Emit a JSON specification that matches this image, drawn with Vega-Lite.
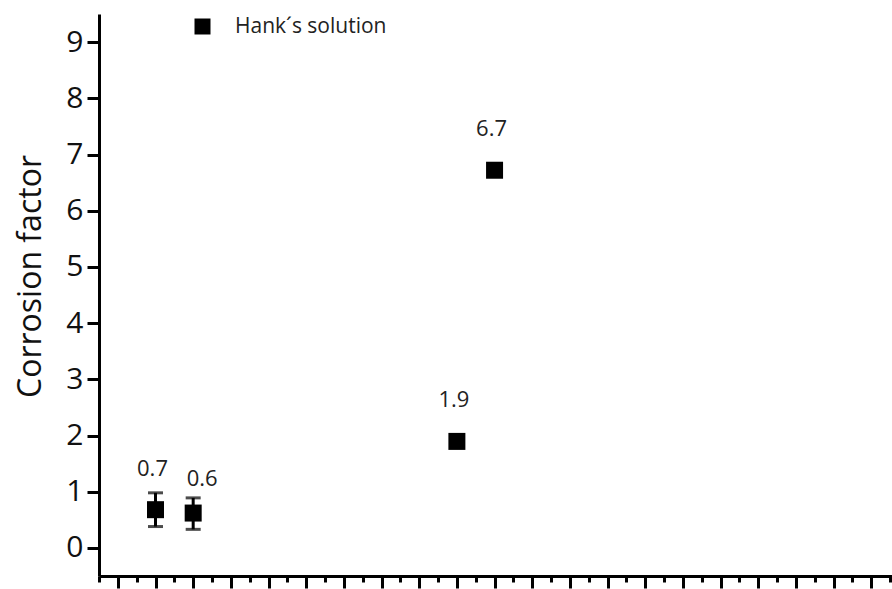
{
  "$schema": "https://vega.github.io/schema/vega-lite/v6.json",
  "autosize": "none",
  "width": 793,
  "height": 562,
  "padding": {"left": 99, "top": 14, "right": 0, "bottom": 13},
  "background": "white",
  "data": {
    "values": [
      {"pos": 1, "cf": 0.68, "lo": 0.38, "hi": 0.98, "label": "0.7"},
      {"pos": 2, "cf": 0.62, "lo": 0.33, "hi": 0.89, "label": "0.6"},
      {"pos": 9, "cf": 1.895, "lo": null, "hi": null, "label": "1.9"},
      {"pos": 10, "cf": 6.72, "lo": null, "hi": null, "label": "6.7"}
    ]
  },
  "encoding": {
    "x": {
      "field": "pos",
      "type": "quantitative",
      "scale": {"domain": [-0.5, 20.55], "nice": false, "zero": false},
      "axis": {
        "title": null,
        "labels": false,
        "grid": false,
        "values": [-0.5,0,0.5,1,1.5,2,2.5,3,3.5,4,4.5,5,5.5,6,6.5,7,7.5,8,8.5,9,9.5,10,10.5,11,11.5,12,12.5,13,13.5,14,14.5,15,15.5,16,16.5,17,17.5,18,18.5,19,19.5,20,20.5],
        "tickSize": {"condition": {"test": "datum.value % 1 === 0", "value": 12}, "value": 6},
        "tickWidth": 3,
        "tickColor": "black",
        "domainWidth": 3,
        "domainColor": "black"
      }
    }
  },
  "layer": [
    {
      "transform": [{"filter": "datum.lo != null"}],
      "mark": {"type": "rule", "strokeWidth": 3, "color": "black"},
      "encoding": {
        "y": {"field": "lo", "type": "quantitative", "title": "Corrosion factor"},
        "y2": {"field": "hi"}
      }
    },
    {
      "transform": [{"filter": "datum.lo != null"}],
      "mark": {"type": "tick", "orient": "horizontal", "size": 15, "thickness": 3, "color": "black"},
      "encoding": {
        "y": {"field": "hi", "type": "quantitative", "title": "Corrosion factor"}
      }
    },
    {
      "transform": [{"filter": "datum.lo != null"}],
      "mark": {"type": "tick", "orient": "horizontal", "size": 15, "thickness": 3, "color": "black"},
      "encoding": {
        "y": {"field": "lo", "type": "quantitative", "title": "Corrosion factor"}
      }
    },
    {
      "mark": {"type": "point", "filled": true, "size": 289, "opacity": 1, "color": "black"},
      "encoding": {
        "y": {
          "field": "cf",
          "type": "quantitative",
          "scale": {"domain": [-0.5, 9.5], "nice": false, "zero": false},
          "axis": {
            "title": "Corrosion factor",
            "titleFont": "Open Sans",
            "titleFontSize": 32,
            "titleFontWeight": "normal",
            "titleColor": "#111",
            "titleX": -52,
            "titleY": 262,
            "grid": false,
            "values": [0,0.5,1,1.5,2,2.5,3,3.5,4,4.5,5,5.5,6,6.5,7,7.5,8,8.5,9,9.5],
            "labelExpr": "datum.value % 1 === 0 ? format(datum.value, 'd') : ''",
            "labelFont": "Open Sans",
            "labelFontSize": 30,
            "labelColor": "#111",
            "labelPadding": 4,
            "tickSize": {"condition": {"test": "datum.value % 1 === 0", "value": 12}, "value": 6},
            "tickWidth": 3,
            "tickColor": "black",
            "domainWidth": 3,
            "domainColor": "black"
          }
        },
        "shape": {
          "datum": "Hank´s solution",
          "type": "nominal",
          "scale": {"range": ["square"]},
          "legend": {
            "orient": "none",
            "legendX": 93,
            "legendY": 2,
            "title": null,
            "padding": 0,
            "symbolSize": 256,
            "symbolFillColor": "black",
            "symbolStrokeColor": "black",
            "symbolStrokeWidth": 0,
            "labelFont": "Open Sans",
            "labelFontSize": 21,
            "labelColor": "#222",
            "labelOffset": 22
          }
        }
      }
    },
    {
      "transform": [{"filter": "datum.label != '0.6'"}],
      "mark": {"type": "text", "dx": -3, "dy": -41, "font": "Open Sans", "fontSize": 22, "color": "#222"},
      "encoding": {
        "y": {"field": "cf", "type": "quantitative"},
        "text": {"field": "label"}
      }
    },
    {
      "transform": [{"filter": "datum.label == '0.6'"}],
      "mark": {"type": "text", "dx": 9, "dy": -34, "font": "Open Sans", "fontSize": 22, "color": "#222"},
      "encoding": {
        "y": {"field": "cf", "type": "quantitative"},
        "text": {"field": "label"}
      }
    }
  ],
  "config": {
    "view": {"stroke": null}
  }
}
